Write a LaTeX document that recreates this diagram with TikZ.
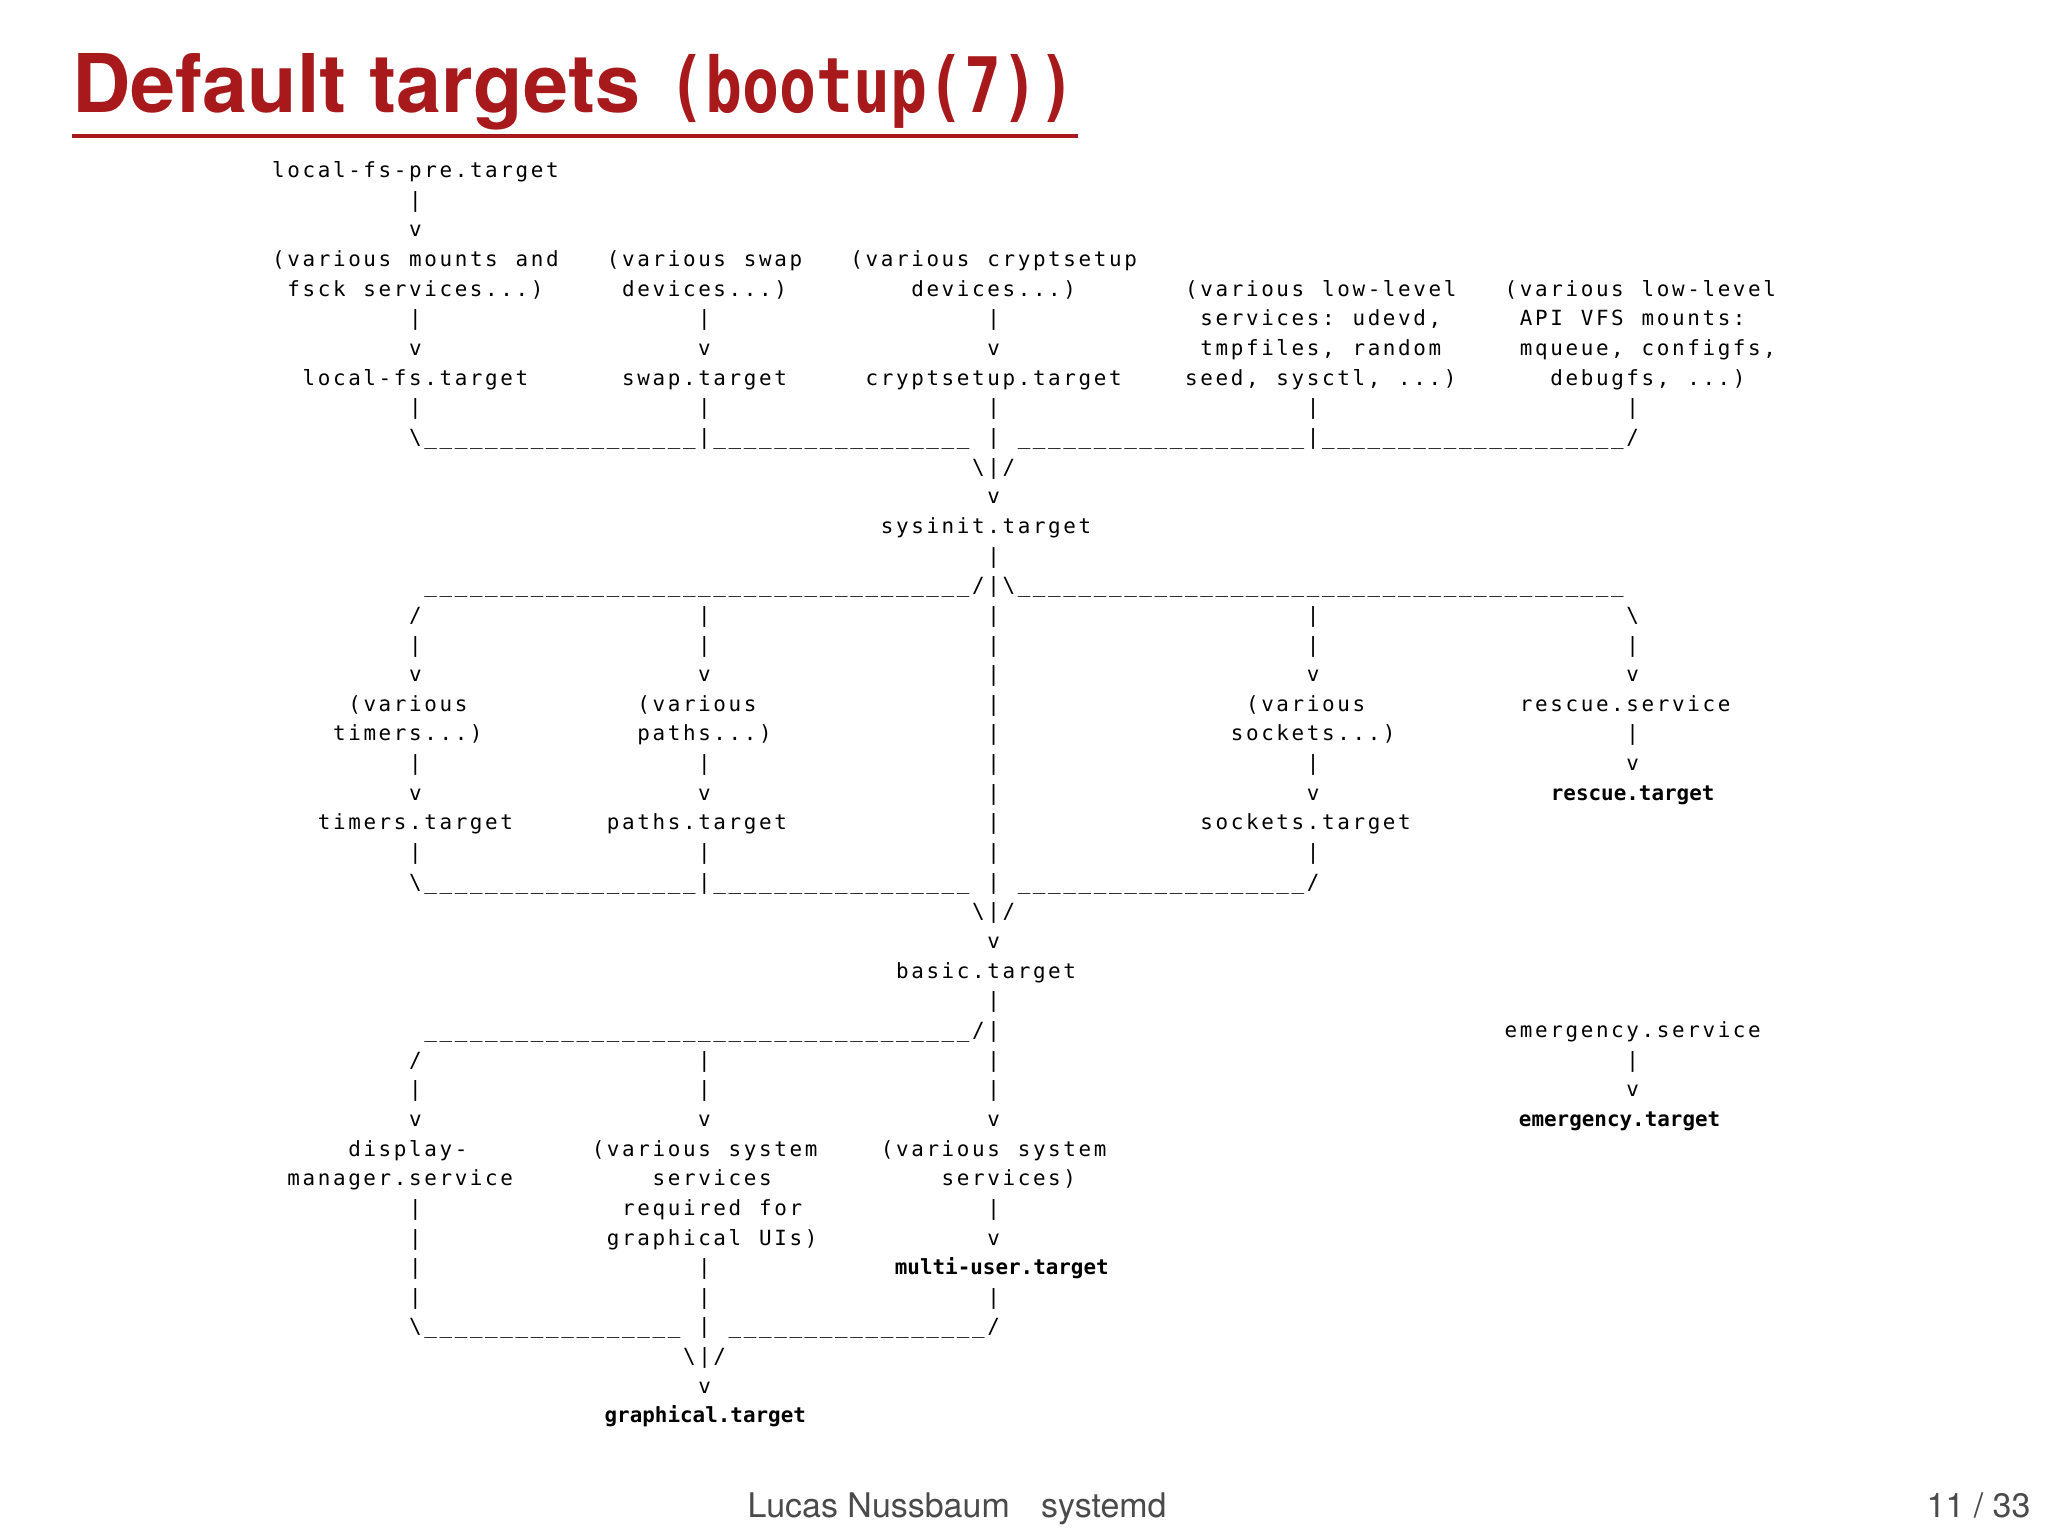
\documentclass[tikz,border=0pt]{standalone}
\usepackage{fontspec}
\usepackage{graphicx}
\setmainfont{TeX Gyre Heros}
\newfontfamily\monof{DejaVu Sans Mono}
\definecolor{titlered}{HTML}{A8191C}
\definecolor{foot}{HTML}{4A4A4A}
\newdimen\cw \cw=5.825pt
\def\End{\End}
\def\Chars#1{\ifx#1\End\else\hbox to \cw{\hss#1\hss}\expandafter\Chars\fi}
\def\Ln#1#2{\begingroup\catcode`\\=12 \catcode`\ =12 \catcode`\_=12 \LnB{#1}{#2}}
\def\LnB#1#2#3!{\node[anchor=base west,inner sep=0pt,font=\monof\fontsize{8}{9}\selectfont] at ({207+11.65*#2},{136+22.7*#1}) {\Chars#3\End};\endgroup}
\tikzset{bt/.style={anchor=base,inner sep=0pt,font=\monof\bfseries\fontsize{8}{9}\selectfont}}
\begin{document}
\begin{tikzpicture}[x=0.5pt,y=-0.5pt]
\useasboundingbox[fill=white] (0,0) rectangle (1568,1176);
\node[anchor=base west,inner sep=0pt,text=titlered,font=\bfseries\fontsize{31}{34}\selectfont] (title) at (55,86) {Default targets\hspace{0.35em}\scalebox{0.98}[1.22]{\monof\fontsize{24}{28}\selectfont(bootup(7))}};
\draw[titlered,line width=1.5pt] (55,104) -- (825,104);
\Ln{0}{0}local-fs-pre.target!
\Ln{1}{9}|!
\Ln{2}{9}v!
\Ln{3}{0}(various mounts and!
\Ln{3}{22}(various swap!
\Ln{3}{38}(various cryptsetup!
\Ln{4}{1}fsck services...)!
\Ln{4}{23}devices...)!
\Ln{4}{42}devices...)!
\Ln{4}{60}(various low-level!
\Ln{4}{81}(various low-level!
\Ln{5}{9}|                  |                  |!
\Ln{5}{61}services: udevd,!
\Ln{5}{82}API VFS mounts:!
\Ln{6}{9}v                  v                  v!
\Ln{6}{61}tmpfiles, random!
\Ln{6}{82}mqueue, configfs,!
\Ln{7}{2}local-fs.target!
\Ln{7}{23}swap.target!
\Ln{7}{39}cryptsetup.target!
\Ln{7}{60}seed, sysctl, ...)!
\Ln{7}{84}debugfs, ...)!
\Ln{8}{9}|                  |                  |                    |                    |!
\Ln{9}{9}\__________________|_________________ | ___________________|____________________/!
\Ln{10}{46}\|/!
\Ln{11}{47}v!
\Ln{12}{40}sysinit.target!
\Ln{13}{47}|!
\Ln{14}{10}____________________________________/|\________________________________________!
\Ln{15}{9}/                  |                  |                    |                    \!
\Ln{16}{9}|                  |                  |                    |                    |!
\Ln{17}{9}v                  v                  |                    v                    v!
\Ln{18}{5}(various!
\Ln{18}{24}(various!
\Ln{18}{47}|!
\Ln{18}{64}(various!
\Ln{18}{82}rescue.service!
\Ln{19}{4}timers...)!
\Ln{19}{24}paths...)!
\Ln{19}{47}|!
\Ln{19}{63}sockets...)!
\Ln{19}{89}|!
\Ln{20}{9}|                  |                  |                    |                    v!
\Ln{21}{9}v                  v                  |                    v!
\node[bt] (rescue) at (1250,{136+22.7*21}) {rescue.target};
\Ln{22}{3}timers.target!
\Ln{22}{22}paths.target!
\Ln{22}{47}|!
\Ln{22}{61}sockets.target!
\Ln{23}{9}|                  |                  |                    |!
\Ln{24}{9}\__________________|_________________ | ___________________/!
\Ln{25}{46}\|/!
\Ln{26}{47}v!
\Ln{27}{41}basic.target!
\Ln{28}{47}|!
\Ln{29}{10}____________________________________/|!
\Ln{29}{81}emergency.service!
\Ln{30}{9}/                  |                  |                                         |!
\Ln{31}{9}|                  |                  |                                         v!
\Ln{32}{9}v                  v                  v!
\node[bt] (emerg) at (1240,{136+22.7*32}) {emergency.target};
\Ln{33}{5}display-!
\Ln{33}{21}(various system!
\Ln{33}{40}(various system!
\Ln{34}{1}manager.service!
\Ln{34}{25}services!
\Ln{34}{44}services)!
\Ln{35}{9}|!
\Ln{35}{23}required for!
\Ln{35}{47}|!
\Ln{36}{9}|!
\Ln{36}{22}graphical UIs)!
\Ln{36}{47}v!
\Ln{37}{9}|                  |!
\node[bt] (multi) at (767,{136+22.7*37}) {multi-user.target};
\Ln{38}{9}|                  |                  |!
\Ln{39}{9}\_________________ | _________________/!
\Ln{40}{27}\|/!
\Ln{41}{28}v!
\node[bt] (graph) at (540,{136+22.7*42}) {graphical.target};
\node[anchor=base west,inner sep=0pt,text=foot,font=\fontsize{13}{15}\selectfont] (foot1) at (572,1162) {Lucas Nussbaum\hspace{12pt}systemd};
\node[anchor=base east,inner sep=0pt,text=foot,font=\fontsize{13}{15}\selectfont] (foot2) at (1555,1162) {11 / 33};
\end{tikzpicture}
\end{document}
